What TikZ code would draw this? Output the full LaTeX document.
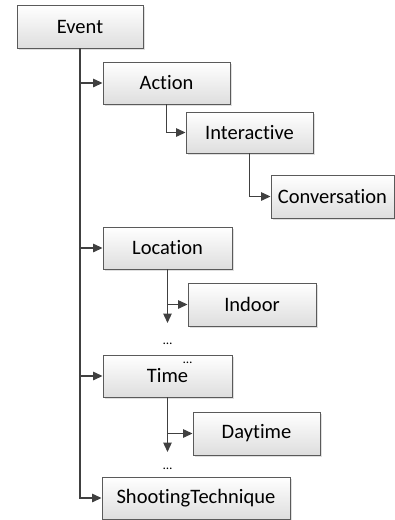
\documentclass[tikz,border=0pt]{standalone}
\usepackage{fontspec}
\setmainfont{Carlito}[Ligatures={NoCommon,NoContextual}]
\usetikzlibrary{shadows,arrows.meta}

\definecolor{boxline}{HTML}{5A5A5A}
\definecolor{linkline}{HTML}{404040}

\tikzset{
  box/.style={draw=boxline, line width=0.9pt, rectangle, top color=white, bottom color=black!13,
    minimum width=127pt, minimum height=42pt, inner sep=0pt,
    font=\fontsize{20.5}{24}\selectfont,
    drop shadow={shadow xshift=1.5pt, shadow yshift=-1.5pt, opacity=0.25}},
  link/.style={draw=linkline, line width=1.3pt, -{Triangle[length=9.5pt,width=8.5pt]}},
  dots/.style={font=\fontsize{13}{15}\selectfont, inner sep=0pt, anchor=base}
}

\begin{document}
\begin{tikzpicture}[x=1pt, y=-1pt]
\useasboundingbox (0,0) rectangle (395,520);

\node[box, minimum width=126pt, minimum height=43pt] (event) at (80,26.5) {Event};
\node[box] (action) at (166.5,83) {Action};
\node[box, minimum height=41pt] (interactive) at (249.5,132.5) {Interactive};
\node[box, minimum width=123pt, minimum height=43pt] (conversation) at (332.5,196.5) {Conversation};
\node[box, minimum width=129pt] (location) at (167.5,248) {Location};
\node[box, minimum width=128pt, minimum height=43pt] (indoor) at (252,304.5) {Indoor};
\node[box, minimum width=129pt] (time) at (167.5,376) {Time};
\node[box, minimum height=43pt] (daytime) at (256.5,433.5) {Daytime};
\node[box, minimum width=188pt, minimum height=42pt] (shooting) at (196,498) {ShootingTechnique};

\coordinate (locend) at (167.5,323);
\coordinate (timeend) at (167.5,452);

\node[dots] (locdots) at (167.5,344) {\dots};
\node[dots] (timedots1) at (187.5,363) {\dots};
\node[dots] (timedots2) at (167.5,469) {\dots};

% main trunk
\path[link] (event.south) |- (shooting.west);
\path[link] (event.south |- action.west) -- (action.west);
\path[link] (event.south |- location.west) -- (location.west);
\path[link] (event.south |- time.west) -- (time.west);

\path[link] (action.south) |- (interactive.west);
\path[link] (interactive.south) |- (conversation.west);

\path[link] (location.south) -- (locend);
\path[link] (location.south |- indoor.west) -- (indoor.west);

\path[link] (time.south) -- (timeend);
\path[link] (time.south |- daytime.west) -- (daytime.west);
\end{tikzpicture}
\end{document}
